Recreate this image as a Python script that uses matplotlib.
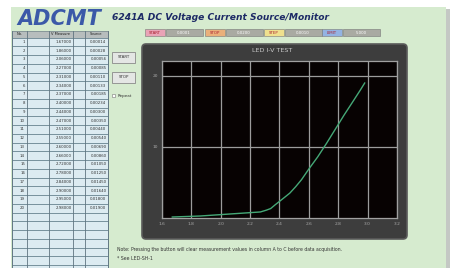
import matplotlib
matplotlib.use("Agg")
import matplotlib.pyplot as plt
from matplotlib.patches import Rectangle, FancyBboxPatch
import numpy as np

# LED I-V data (voltage measured, source current)
v_measure = [1.67, 1.86, 2.06, 2.27, 2.31, 2.34, 2.37, 2.40, 2.44, 2.47,
             2.51, 2.55, 2.60, 2.66, 2.72, 2.78, 2.84, 2.90, 2.95, 2.98]
i_source_ma = [0.14, 0.28, 0.56, 0.85, 1.1, 1.33, 1.85, 2.34, 3.0, 3.5,
               4.4, 5.4, 6.9, 8.6, 10.5, 12.5, 14.5, 16.4, 18.0, 19.0]

x_ticks = [1.6, 1.8, 2.0, 2.2, 2.4, 2.6, 2.8, 3.0, 3.2]
y_ticks = [10, 20]

col_headers = ["No.", "", "V Measure", "", "Source"]
sweep_labels = ["START", "STOP", "STEP", "LIMIT"]
sweep_values = ["0.0001", "0.0200", "0.0010", "5.000"]
sweep_colors = ["#e9a3b6", "#eab07a", "#efe08e", "#93b3e2"]

W, H = 452, 268
fig = plt.figure(figsize=(W / 100, H / 100), dpi=100)
bg = fig.add_axes([0, 0, 1, 1])
bg.set_xlim(0, W)
bg.set_ylim(H, 0)
bg.axis("off")

# sheet background
bg.add_patch(Rectangle((11, 7), 435, 261, fc="#d6ebcf", ec="none"))
bg.add_patch(Rectangle((446, 9), 4, 259, fc="#c4c8c4", ec="none"))

# header
bg.text(17, 19, "ADCMT", fontsize=15, fontweight="bold", fontstyle="italic",
        color="#3b59a8", va="center", ha="left")
bg.text(112, 17, "6241A DC Voltage Current Source/Monitor", fontsize=6.6,
        fontweight="bold", fontstyle="italic", color="#1d2a66", va="center")

# sweep setting boxes
bx = [145, 205, 264, 322]
for x0, lab, val, c in zip(bx, sweep_labels, sweep_values, sweep_colors):
    bg.add_patch(Rectangle((x0, 29), 20, 7, fc=c, ec="#777777", lw=0.4))
    bg.text(x0 + 10, 32.5, lab, fontsize=2.8, ha="center", va="center", color="#aa2030")
    bg.add_patch(Rectangle((x0 + 21, 29), 37, 7, fc="#a9aaa2", ec="#777777", lw=0.4))
    bg.text(x0 + 39, 32.5, val, fontsize=2.8, ha="center", va="center", color="white")

# table
cols = [12, 27, 49, 73, 85, 108]
row_h = 8.75
top = 31
bg.add_patch(Rectangle((cols[0], top), cols[-1] - cols[0], 6.5, fc="#b7bdbd", ec="#6d7f86", lw=0.5))
for k, h in enumerate(col_headers):
    if h:
        bg.text((cols[k] + cols[k + 1]) / 2, top + 3.3, h, fontsize=2.6,
                ha="center", va="center", color="#222222")
y = top + 6.5
n = 0
while y < H:
    bg.add_patch(Rectangle((cols[0], y), cols[-1] - cols[0], row_h, fc="#dcebf1",
                           ec="#6f8a96", lw=0.6))
    if n < len(v_measure):
        bg.text(cols[1] - 2, y + row_h / 2, str(n + 1), fontsize=2.8, ha="right", va="center", color="#333333")
        bg.text(cols[3] - 1.5, y + row_h / 2, "%.5f" % v_measure[n], fontsize=2.8, ha="right", va="center", color="#333333")
        bg.text(cols[5] - 1.5, y + row_h / 2, "%.5f" % (i_source_ma[n] / 1000), fontsize=2.8, ha="right", va="center", color="#333333")
    n += 1
    y += row_h
for cx in cols:
    bg.plot([cx, cx], [top, H], color="#5f7480", lw=0.6)

# buttons
for yb, lab in [(52, "START"), (72, "STOP")]:
    bg.add_patch(Rectangle((112, yb), 23, 11, fc="#e4e6e4", ec="#8a8a8a", lw=0.6))
    bg.text(123.5, yb + 5.5, lab, fontsize=2.9, ha="center", va="center", color="#333333")
bg.add_patch(Rectangle((112.5, 94), 3, 3, fc="white", ec="#777777", lw=0.4))
bg.text(118, 95.5, "Repeat", fontsize=2.9, va="center", color="#333333")

# chart panel
bg.add_patch(FancyBboxPatch((142, 44), 265, 195, boxstyle="round,pad=0,rounding_size=4",
                            fc="#3d3d3d", ec="#5a5a5a", lw=1.2))
bg.text(272, 51, "LED I-V TEST", fontsize=4.6, ha="center", va="center", color="#c9c9c9")

# note
bg.text(117, 250, "Note: Pressing the button will clear measurement values in column A to C before data acquisition.",
        fontsize=3.3, va="center", color="#333333")
bg.text(117, 258, "* See LED-SH-1", fontsize=3.3, va="center", color="#333333")

# the chart
ax = fig.add_axes([162 / W, 1 - 218 / H, 235 / W, 157 / H])
ax.set_facecolor("#070202")
ax.plot(v_measure, i_source_ma, color="#45a877", lw=1.0)
ax.set_xlim(1.6, 3.2)
ax.set_ylim(0, 22.1)
ax.set_xticks(x_ticks)
ax.set_yticks(y_ticks)
ax.set_xticklabels(["%.1f" % t for t in x_ticks])
ax.grid(True, color="#9c9c9c", lw=0.9)
ax.tick_params(length=0, labelsize=3.2, colors="#a9a9a9", pad=3)
for s in ax.spines.values():
    s.set_color("#a0a0a0")
    s.set_linewidth(0.9)

fig.savefig("out.png", dpi=100)
